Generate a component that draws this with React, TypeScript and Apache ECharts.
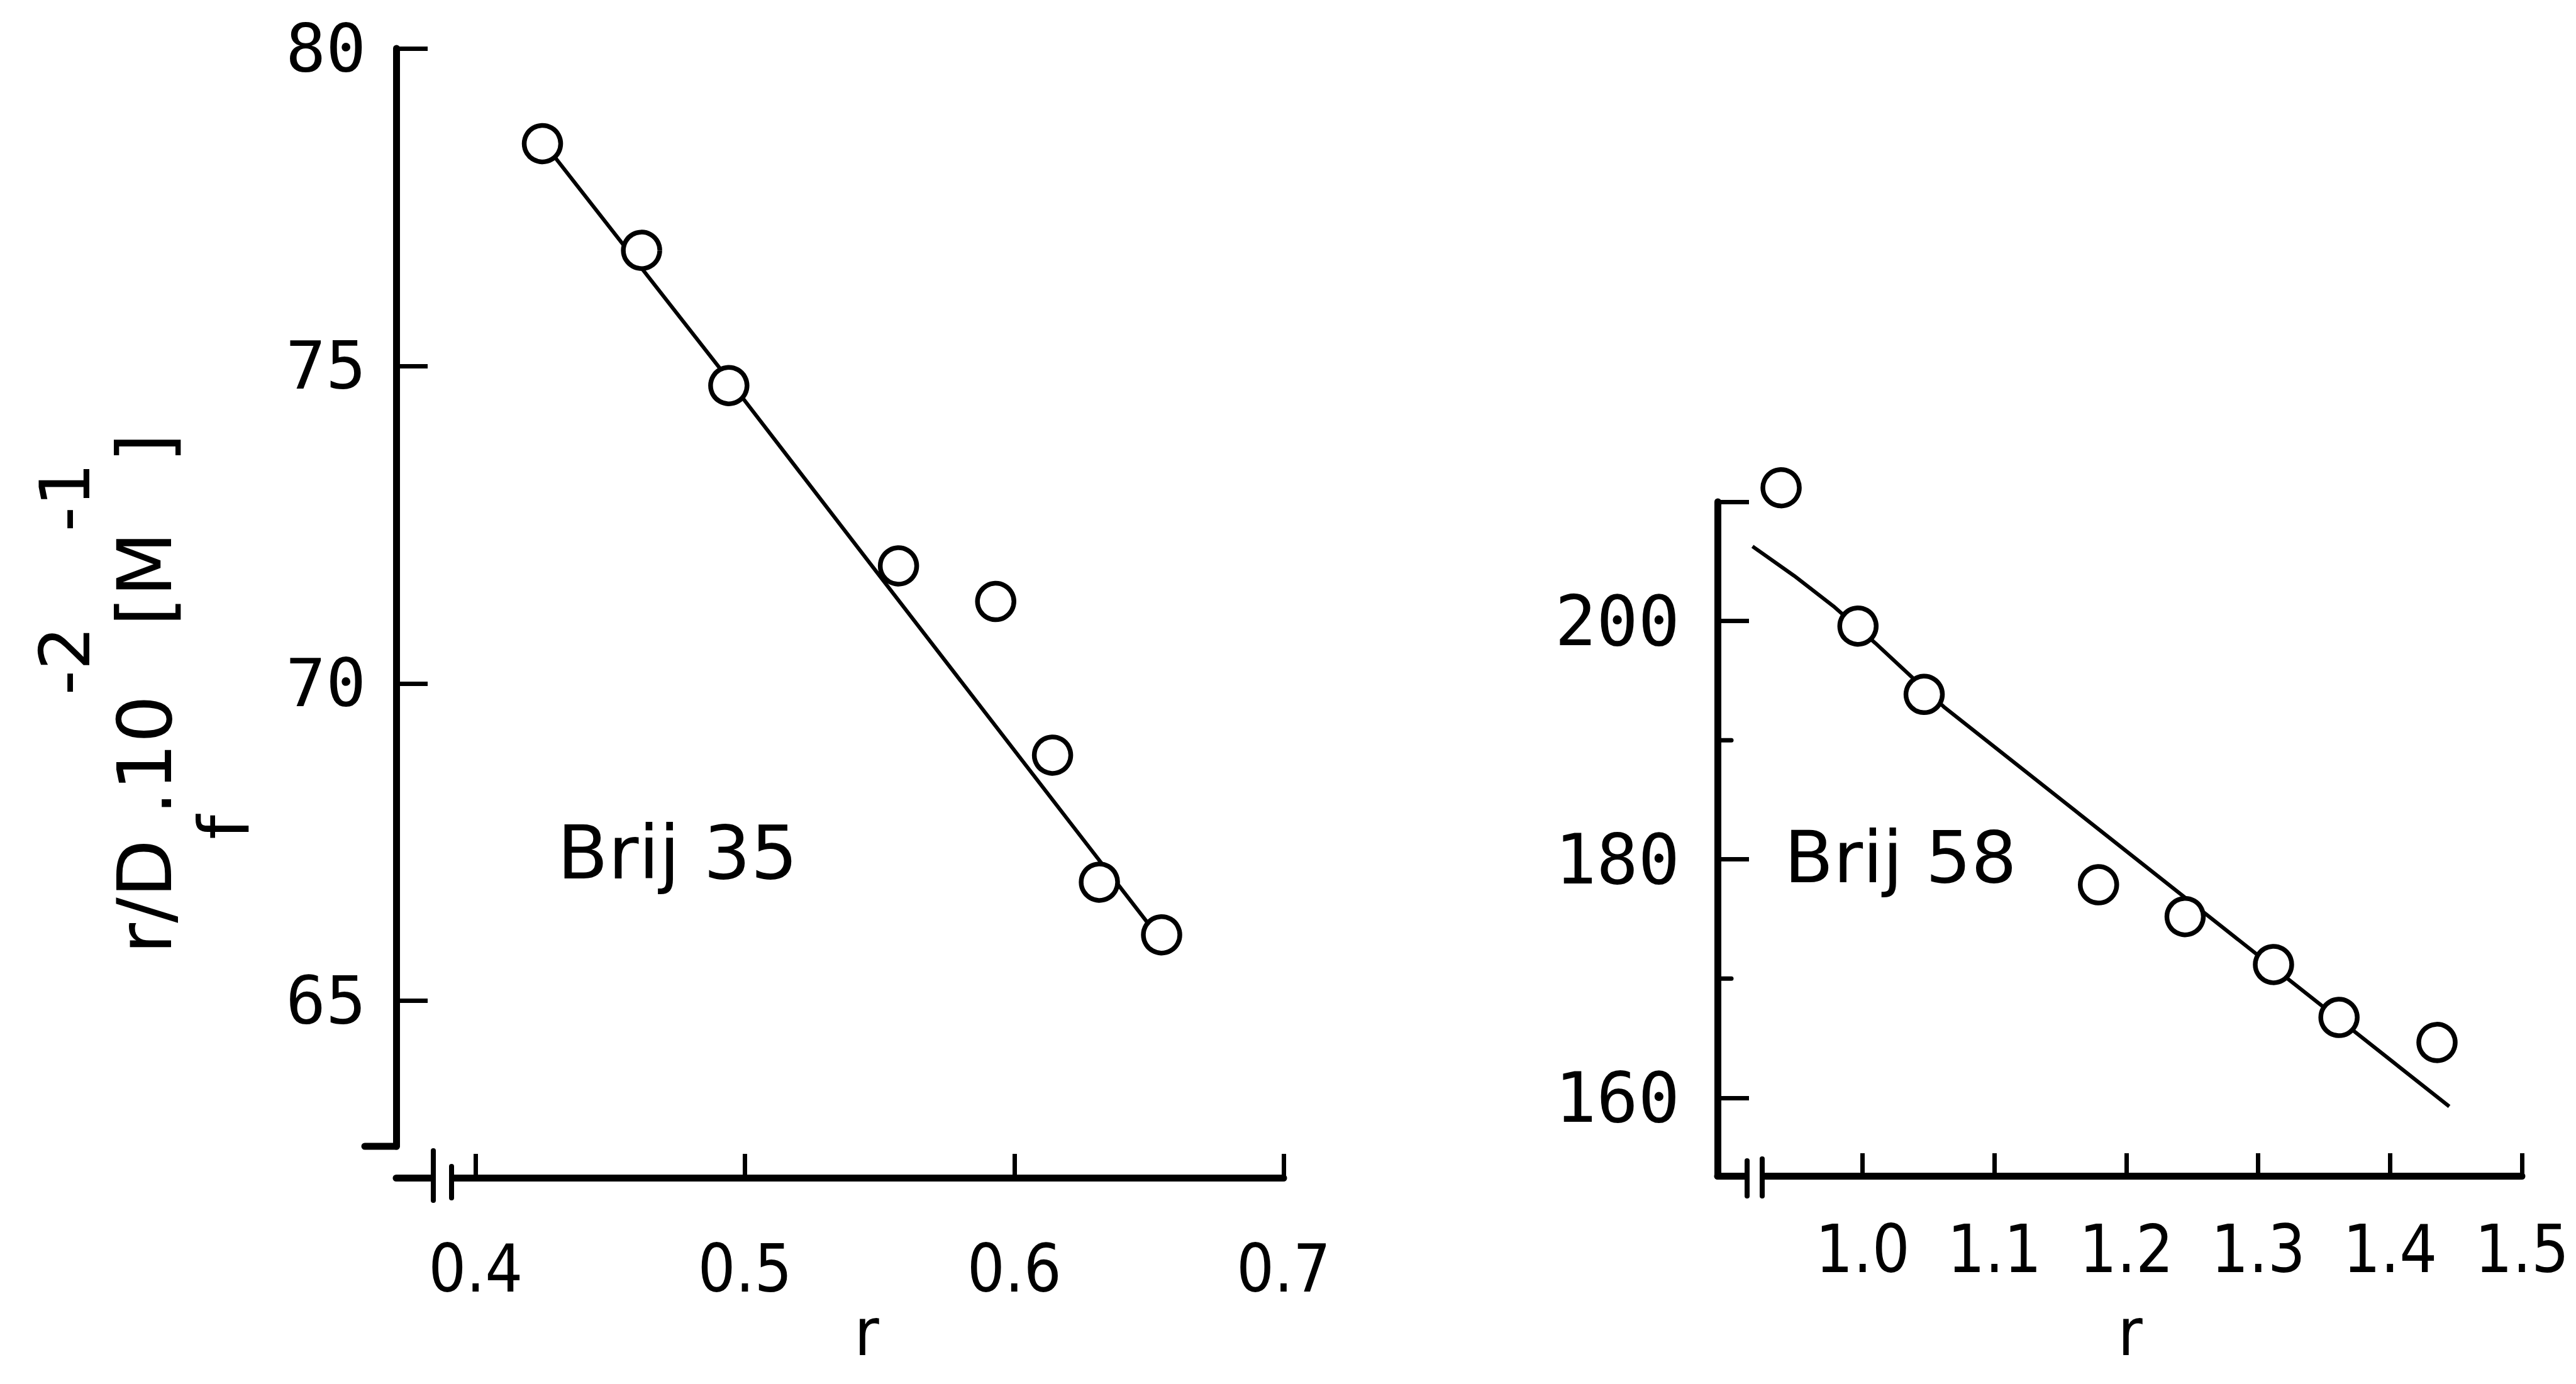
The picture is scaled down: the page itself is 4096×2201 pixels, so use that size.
import React, { useEffect, useRef } from 'react';
import * as echarts from 'echarts';

// ---------- data ----------
// Left panel: Brij 35
const leftX = [0.4248, 0.4616, 0.494, 0.557, 0.5931, 0.6142, 0.6316, 0.6547];
const leftY = [78.5, 76.82, 74.69, 71.85, 71.29, 68.87, 66.87, 66.04];
const leftFitX = [0.4277, 0.4909, 0.5488, 0.6207, 0.6517];
const leftFitY = [78.38, 74.95, 71.76, 67.81, 66.11];
// Right panel: Brij 58
const rightX = [0.9382, 0.9965, 1.0467, 1.1789, 1.2446, 1.3116, 1.3613, 1.4356];
const rightY = [211.18, 199.57, 193.84, 177.87, 175.2, 171.18, 166.74, 164.64];
const rightFitX = [0.9165, 0.9481, 0.9779, 1.0096, 1.0616, 1.4449];
const rightFitY = [206.26, 203.79, 201.24, 198.15, 192.8, 159.27];
// ticks
const leftXTicks = [0.4, 0.5, 0.6, 0.7];
const leftYTicks = [65, 70, 75, 80];
const rightXTicks = [1.0, 1.1, 1.2, 1.3, 1.4, 1.5];
const rightYLabels = [160, 180, 200];
const rightYMajorTicks = [160, 180, 200, 210];
const rightYMinorTicks = [170, 190];
const panelNames = ['Brij 35', 'Brij 58'];
const xName = 'r';

const zip = (a: number[], b: number[]) => a.map((v, i) => [v, b[i]]);

const NARROW = "'Liberation Sans Narrow', 'DejaVu Sans Condensed', 'Roboto Condensed', 'Liberation Sans', sans-serif";
const MONO = "'DejaVu Sans Mono', 'Liberation Mono', monospace";
const SANS = "'DejaVu Sans', 'Liberation Sans', sans-serif";
const BLACK = '#000';

const G1 = { left: 630, top: 77, width: 1411, height: 1746 };
const G2 = { left: 2731, top: 798, width: 1279, height: 1072 };
const L_XMIN = 0.3705, L_XMAX = 0.7, L_YMIN = 62.71, L_YMAX = 80;
const R_XMIN = 0.89, R_XMAX = 1.5, R_YMIN = 153.45, R_YMAX = 210;
const L_XOFFSET = 50;

export default function App() {
  const ref = useRef<HTMLDivElement>(null);
  useEffect(() => {
    document.body.style.margin = '0';
    const chart = echarts.init(ref.current!, undefined, { renderer: 'svg' });
    const axisLine = { show: true, onZero: false, lineStyle: { color: BLACK, width: 11 } };
    const tickStyle = { color: BLACK, width: 7 };
    const option: any = {
      animation: false,
      backgroundColor: '#fff',
      grid: [
        { ...G1, outerBoundsMode: 'none', containLabel: false },
        { ...G2, outerBoundsMode: 'none', containLabel: false },
      ],
      xAxis: [
        {
          type: 'value', gridIndex: 0, min: L_XMIN, max: L_XMAX, offset: L_XOFFSET,
          axisLine,
          axisTick: { show: true, inside: true, length: 38, customValues: leftXTicks, lineStyle: tickStyle },
          axisLabel: { show: true, customValues: leftXTicks, formatter: (v: number) => v.toFixed(1), margin: 92, fontSize: 105, fontFamily: NARROW, color: BLACK },
          splitLine: { show: false },
        },
        {
          type: 'value', gridIndex: 1, min: R_XMIN, max: R_XMAX,
          axisLine,
          axisTick: { show: true, inside: true, length: 36, customValues: rightXTicks, lineStyle: tickStyle },
          axisLabel: { show: true, customValues: rightXTicks, formatter: (v: number) => v.toFixed(1), margin: 64, fontSize: 105, fontFamily: NARROW, color: BLACK },
          splitLine: { show: false },
        },
      ],
      yAxis: [
        {
          type: 'value', gridIndex: 0, min: L_YMIN, max: L_YMAX,
          axisLine,
          axisTick: { show: true, inside: true, length: 50, customValues: leftYTicks, lineStyle: tickStyle },
          axisLabel: { show: true, customValues: leftYTicks, margin: 48, fontSize: 106, fontFamily: MONO, color: BLACK },
          splitLine: { show: false },
        },
        {
          type: 'value', gridIndex: 1, min: R_YMIN, max: R_YMAX,
          axisLine,
          axisTick: { show: true, inside: true, length: 50, customValues: rightYMajorTicks, lineStyle: tickStyle },
          axisLabel: { show: true, customValues: rightYLabels, margin: 60, fontSize: 110, fontFamily: MONO, color: BLACK },
          splitLine: { show: false },
        },
      ],
      series: [
        {
          type: 'line', xAxisIndex: 0, yAxisIndex: 0, data: zip(leftFitX, leftFitY),
          showSymbol: false, symbol: 'none', lineStyle: { color: BLACK, width: 6 }, z: 2, silent: true, clip: false,
        },
        {
          type: 'scatter', xAxisIndex: 0, yAxisIndex: 0, data: zip(leftX, leftY),
          symbol: 'circle', symbolSize: 58, itemStyle: { color: '#fff', borderColor: BLACK, borderWidth: 7.5, opacity: 1 },
          z: 3, silent: true, clip: false,
        },
        {
          type: 'line', xAxisIndex: 1, yAxisIndex: 1, data: zip(rightFitX, rightFitY),
          showSymbol: false, symbol: 'none', lineStyle: { color: BLACK, width: 6 }, z: 2, silent: true, clip: false,
        },
        {
          type: 'scatter', xAxisIndex: 1, yAxisIndex: 1, data: zip(rightX, rightY),
          symbol: 'circle', symbolSize: 58, itemStyle: { color: '#fff', borderColor: BLACK, borderWidth: 7.5, opacity: 1 },
          z: 3, silent: true, clip: false,
        },
      ],
    };
    chart.setOption(option);

    // decorations computed through the axes' scales
    const px = (gi: number, v: number[]) => chart.convertToPixel({ gridIndex: gi } as any, v) as number[];
    const lOrigin = px(0, [L_XMIN, L_YMIN]);
    const lAxisY = lOrigin[1] + L_XOFFSET;
    const rOrigin = px(1, [R_XMIN, R_YMIN]);
    const lineEl = (id: string, x1: number, y1: number, x2: number, y2: number, w: number) => ({
      type: 'line', id, z: 50, silent: true,
      shape: { x1, y1, x2, y2 }, style: { stroke: BLACK, lineWidth: w, lineCap: 'round' },
    });
    const graphics: any[] = [];
    // left: y-axis foot and x-axis break
    graphics.push(lineEl('lfoot', lOrigin[0] - 50, lOrigin[1], lOrigin[0], lOrigin[1], 11));
    const lb1 = lOrigin[0] + 59, lb2 = lOrigin[0] + 88;
    graphics.push({ type: 'rect', id: 'lgap', z: 49, silent: true, shape: { x: lb1 + 4, y: lAxisY - 9, width: lb2 - lb1 - 8, height: 18 }, style: { fill: '#fff' } });
    graphics.push(lineEl('lb1', lb1, lAxisY - 43, lb1, lAxisY + 36, 8));
    graphics.push(lineEl('lb2', lb2, lAxisY - 18, lb2, lAxisY + 32, 8));
    // right: x-axis break and minor y ticks
    const rb1 = rOrigin[0] + 47, rb2 = rOrigin[0] + 71;
    graphics.push({ type: 'rect', id: 'rgap', z: 49, silent: true, shape: { x: rb1 + 4, y: rOrigin[1] - 9, width: rb2 - rb1 - 8, height: 18 }, style: { fill: '#fff' } });
    graphics.push(lineEl('rb1', rb1, rOrigin[1] - 24, rb1, rOrigin[1] + 32, 8));
    graphics.push(lineEl('rb2', rb2, rOrigin[1] - 27, rb2, rOrigin[1] + 32, 8));
    rightYMinorTicks.forEach((v, i) => {
      const p = px(1, [R_XMIN, v]);
      graphics.push(lineEl('rminor' + i, p[0], p[1], p[0] + 22, p[1], 7));
    });
    // texts
    graphics.push({
      type: 'text', id: 'ylabel', z: 60, silent: true, x: 230, y: 1103, rotation: Math.PI / 2,
      style: {
        text: '{m|r/D}{sub|f}{m|.10}{sup|-2}{m|[M}{sup|-1}{m|]}',
        align: 'center', verticalAlign: 'middle', fill: BLACK,
        rich: {
          m: { fontSize: 120, fontFamily: SANS, lineHeight: 363, fill: BLACK },
          sup: { fontSize: 110, fontFamily: SANS, lineHeight: 110, verticalAlign: 'top', fill: BLACK },
          sub: { fontSize: 110, fontFamily: SANS, lineHeight: 156, verticalAlign: 'bottom', fill: BLACK },
        },
      },
    });
    graphics.push({ type: 'text', id: 'n1', z: 60, silent: true, x: 886, y: 1356, style: { text: panelNames[0], fontSize: 118, fontFamily: SANS, fill: BLACK, align: 'left', verticalAlign: 'middle' } });
    graphics.push({ type: 'text', id: 'n2', z: 60, silent: true, x: 2837, y: 1363, style: { text: panelNames[1], fontSize: 114, fontFamily: SANS, fill: BLACK, align: 'left', verticalAlign: 'middle' } });
    graphics.push({ type: 'text', id: 'r1', z: 60, silent: true, x: 1378, y: 2118, style: { text: xName, fontSize: 106, fontFamily: NARROW, fill: BLACK, align: 'center', verticalAlign: 'middle' } });
    graphics.push({ type: 'text', id: 'r2', z: 60, silent: true, x: 3387, y: 2118, style: { text: xName, fontSize: 106, fontFamily: NARROW, fill: BLACK, align: 'center', verticalAlign: 'middle' } });
    chart.setOption({ graphic: graphics });

    return () => chart.dispose();
  }, []);
  return <div ref={ref} style={{ position: 'fixed', left: 0, top: 0, width: 4096, height: 2201, background: '#fff' }} />;
}
